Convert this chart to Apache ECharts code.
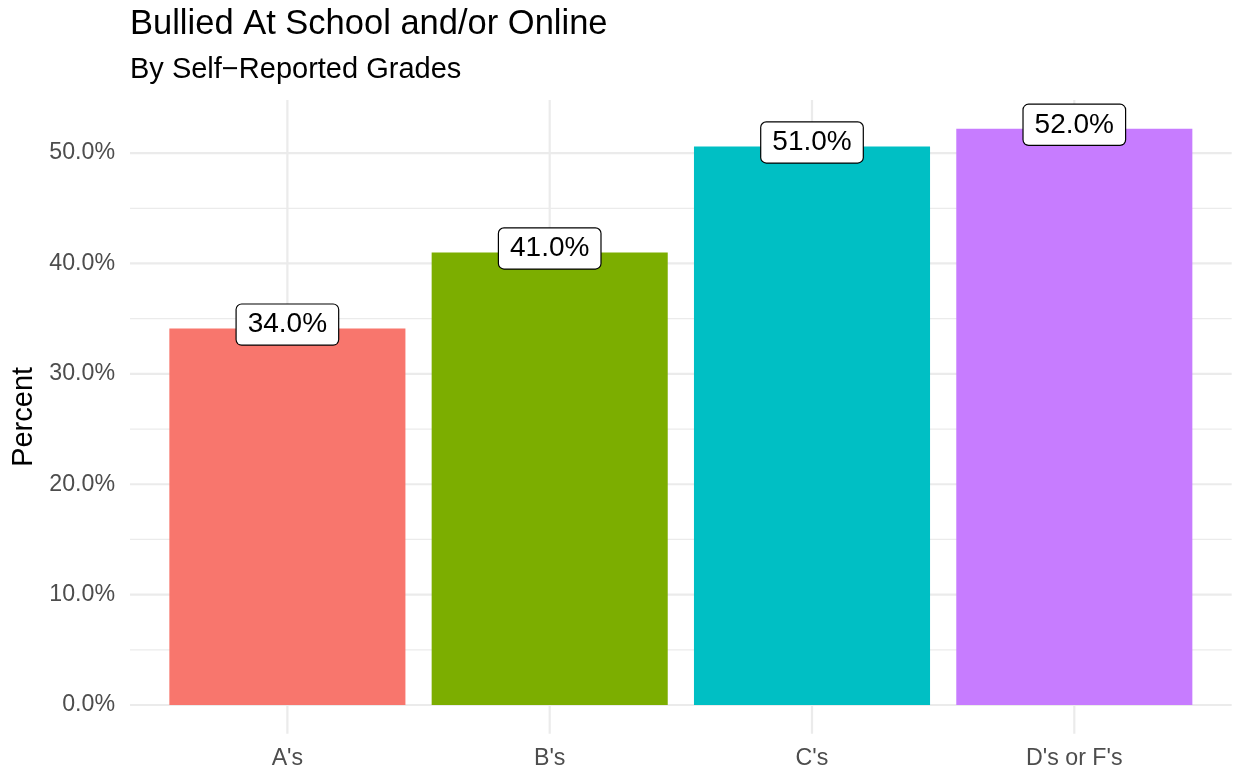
<!DOCTYPE html>
<html>
<head>
<meta charset="utf-8">
<script src="https://cdn.jsdelivr.net/npm/echarts@6/dist/echarts.min.js"></script>
<style>
html,body{margin:0;padding:0;background:#fff;}
#chart{width:1236px;height:770px;}
</style>
</head>
<body>
<div id="chart"></div>
<script>
const categories = ["A's", "B's", "C's", "D's or F's"];
const values = [34.1, 41.0, 50.6, 52.2];
const valueLabels = ["34.0%", "41.0%", "51.0%", "52.0%"];
const barColors = ["#F8766D", "#7CAE00", "#00BFC4", "#C77CFF"];
const yTicks = [0, 10, 20, 30, 40, 50];
const yMinorTicks = [5, 15, 25, 35, 45];
const xPositions = [1, 2, 3, 4];

const FONT = "Liberation Sans";

const chart = echarts.init(document.getElementById('chart'), null, {renderer: 'canvas'});

// gridline items: [kind, value] ; kind 0 = major horizontal, 1 = minor horizontal, 2 = vertical major
const gridData = []
  .concat(yMinorTicks.map(v => [1, v]))
  .concat(yTicks.map(v => [0, v]))
  .concat(xPositions.map(v => [2, v]));

const option = {
  backgroundColor: '#ffffff',
  animation: false,
  title: [
    {
      text: 'Bullied At School and/or Online',
      left: 130, top: 7, padding: 0,
      textStyle: {fontFamily: FONT, fontSize: 34.5, lineHeight: 34.5, fontWeight: 'normal', color: '#000'}
    },
    {
      text: 'By Self\u2212Reported Grades',
      left: 130, top: 55, padding: 0,
      textStyle: {fontFamily: FONT, fontSize: 29, lineHeight: 29, fontWeight: 'normal', color: '#000'}
    }
  ],
  grid: {left: 130, right: 4.3, top: 100, bottom: 36.2, containLabel: false},
  xAxis: {
    type: 'value',
    min: 0.4, max: 4.6,
    axisLine: {show: false},
    axisTick: {show: false},
    splitLine: {show: false},
    axisLabel: {
      customValues: xPositions,
      formatter: v => categories[Math.round(v) - 1],
      fontFamily: FONT, fontSize: 23.2, color: '#4D4D4D', margin: 13
    }
  },
  yAxis: {
    type: 'value',
    min: -2.61, max: 54.81,
    name: 'Percent',
    nameLocation: 'middle',
    nameGap: 88,
    nameTextStyle: {fontFamily: FONT, fontSize: 29, color: '#000'},
    axisLine: {show: false},
    axisTick: {show: false},
    splitLine: {show: false},
    axisLabel: {
      customValues: yTicks,
      formatter: v => v.toFixed(1) + '%',
      fontFamily: FONT, fontSize: 23.2, color: '#4D4D4D', margin: 15
    }
  },
  series: [
    {
      type: 'custom',
      silent: true,
      clip: false,
      z: 0,
      data: gridData,
      renderItem: function (params, api) {
        const cs = params.coordSys;
        const kind = api.value(0);
        const v = api.value(1);
        if (kind === 2) {
          const x = api.coord([v, 0])[0];
          return {type: 'line', shape: {x1: x, y1: cs.y, x2: x, y2: cs.y + cs.height},
            style: {stroke: '#EBEBEB', lineWidth: 2.2}};
        }
        const y = api.coord([1, v])[1];
        return {type: 'line', shape: {x1: cs.x, y1: y, x2: cs.x + cs.width, y2: y},
          style: {stroke: '#EBEBEB', lineWidth: kind === 0 ? 2.2 : 1.2}};
      }
    },
    {
      type: 'bar',
      z: 2,
      barWidth: '90%',
      data: values.map((v, i) => ({value: [xPositions[i], v], itemStyle: {color: barColors[i]}})),
      label: {
        show: true,
        position: ['50%', 0],
        align: 'center',
        verticalAlign: 'middle',
        offset: [0, -4],
        formatter: p => valueLabels[p.dataIndex],
        fontFamily: FONT,
        fontSize: 28,
        lineHeight: 28,
        color: '#000',
        backgroundColor: '#fff',
        borderColor: '#000',
        borderWidth: 1.2,
        borderRadius: 5,
        padding: [6, 11, 6, 11]
      }
    }
  ]
};

chart.setOption(option);
</script>
</body>
</html>
